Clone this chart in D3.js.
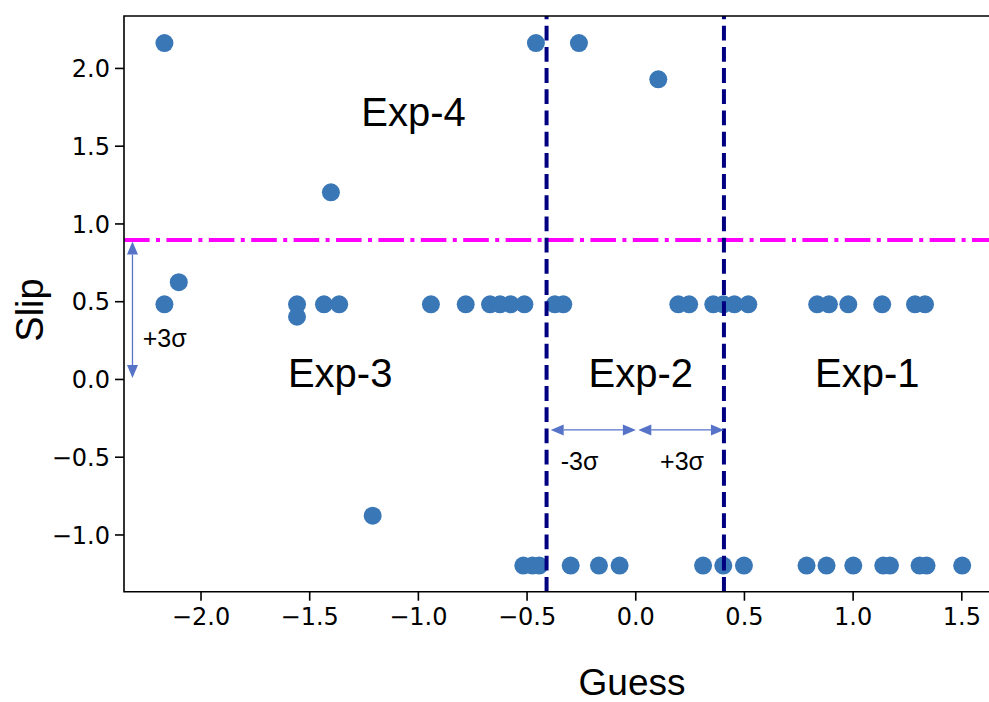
<!DOCTYPE html>
<html><head><meta charset="utf-8">
<script src="https://cdn.jsdelivr.net/npm/d3@7"></script>
<style>html,body{margin:0;padding:0;background:#fff;}svg{display:block;}</style>
</head><body>
<svg id="chart" width="989" height="702"></svg>
<script>
// ---- data ----
const guessValues = [
  -2.166, -0.457, -0.259,
  0.106,
  -1.400,
  -2.100,
  -1.556,
  -1.208,
  -2.166, -1.556, -1.432, -1.362, -0.940, -0.780, -0.668, -0.622, -0.573, -0.510, -0.370, -0.331,
  0.198, 0.248, 0.359, 0.405, 0.456, 0.520, 0.837, 0.891, 0.980, 1.136, 1.287, 1.333,
  -0.515, -0.473, -0.442, -0.297, -0.167, -0.072, 0.312, 0.405, 0.500, 0.788, 0.880, 1.003,
  1.141, 1.172, 1.308, 1.340, 1.504
];
const slipValues = [
  2.16, 2.16, 2.16,
  1.927,
  1.20,
  0.622,
  0.40,
  -0.879,
  0.48, 0.48, 0.48, 0.48, 0.48, 0.48, 0.48, 0.48, 0.48, 0.48, 0.48, 0.48,
  0.48, 0.48, 0.48, 0.48, 0.48, 0.48, 0.48, 0.48, 0.48, 0.48, 0.48, 0.48,
  -1.20, -1.20, -1.20, -1.20, -1.20, -1.20, -1.20, -1.20, -1.20, -1.20, -1.20, -1.20,
  -1.20, -1.20, -1.20, -1.20, -1.20
];
const xTicks = [-2.0, -1.5, -1.0, -0.5, 0.0, 0.5, 1.0, 1.5];
const yTicks = [-1.0, -0.5, 0.0, 0.5, 1.0, 1.5, 2.0];
const slipThreshold = 0.894;          // magenta dash-dot line
const guessBounds = [-0.408, 0.408];  // navy dashed lines
const regionLabels = ["Exp-4", "Exp-3", "Exp-2", "Exp-1"];
const regionLabelAnchors = [[-1.26, 1.627], [-1.598, -0.05], [-0.215, -0.05], [0.827, -0.05]];
const sigmaLabels = ["+3σ", "-3σ", "+3σ"];
const sigmaLabelAnchors = [[-2.266, 0.208], [-0.343, -0.585], [0.114, -0.585]];

// ---- layout ----
const svg = d3.select("#chart");
const L = 124, R = 995, T = 16, B = 591.7;
const x = d3.scaleLinear().domain([-2.352, 1.655]).range([L, R]);
const y = d3.scaleLinear().domain([-1.368, 2.334]).range([B, T]);

svg.append("rect").attr("width", 989).attr("height", 702).attr("fill", "#fff");

const clip = svg.append("defs").append("clipPath").attr("id", "plotclip");
clip.append("rect").attr("x", L).attr("y", T).attr("width", R - L).attr("height", B - T);

const plot = svg.append("g").attr("clip-path", "url(#plotclip)");

// points
plot.selectAll("circle.pt").data(guessValues.map((g, i) => [g, slipValues[i]]))
  .enter().append("circle").attr("class", "pt")
  .attr("cx", d => x(d[0])).attr("cy", d => y(d[1])).attr("r", 9)
  .attr("fill", "#3a77b7");

// magenta dash-dot line
plot.append("line")
  .attr("x1", x.range()[0]).attr("x2", x.range()[1])
  .attr("y1", y(slipThreshold)).attr("y2", y(slipThreshold))
  .attr("stroke", "#ff00ff").attr("stroke-width", 4)
  .attr("stroke-dasharray", "25.6,6.4,4,6.4");

// navy dashed verticals
guessBounds.forEach(g => {
  plot.append("line")
    .attr("x1", x(g)).attr("x2", x(g))
    .attr("y1", B).attr("y2", T)
    .attr("stroke", "#000080").attr("stroke-width", 4)
    .attr("stroke-dasharray", "14.8,6.4");
});

// arrows
const arrowColor = "#5673c8";
function arrow(p0, p1) {
  const x0 = x(p0[0]), y0 = y(p0[1]), x1 = x(p1[0]), y1 = y(p1[1]);
  const dx = x1 - x0, dy = y1 - y0, len = Math.hypot(dx, dy);
  const ux = dx / len, uy = dy / len, nx = -uy, ny = ux;
  const hl = 13, hw = 5.5;
  svg.append("line").attr("x1", x0 + ux * hl).attr("y1", y0 + uy * hl)
    .attr("x2", x1 - ux * hl).attr("y2", y1 - uy * hl)
    .attr("stroke", arrowColor).attr("stroke-width", 1.3);
  const head = (tx, ty, sx, sy) => {
    const bx = tx - sx * hl, by = ty - sy * hl;
    return `M${tx},${ty}L${bx + nx * hw},${by + ny * hw}L${bx - nx * hw},${by - ny * hw}Z`;
  };
  svg.append("path").attr("d", head(x1, y1, ux, uy)).attr("fill", arrowColor);
  svg.append("path").attr("d", head(x0, y0, -ux, -uy)).attr("fill", arrowColor);
}
arrow([-2.313, slipThreshold - 0.01], [-2.313, 0.006]);
arrow([-0.389, -0.328], [0.003, -0.328]);
arrow([0.014, -0.328], [guessBounds[1], -0.328]);

// region labels
regionLabels.forEach((t, i) => {
  svg.append("text").attr("x", x(regionLabelAnchors[i][0])).attr("y", y(regionLabelAnchors[i][1]))
    .attr("font-family", "Liberation Sans, Arial, sans-serif").attr("font-size", 40)
    .attr("fill", "#000").text(t);
});
sigmaLabels.forEach((t, i) => {
  svg.append("text").attr("x", x(sigmaLabelAnchors[i][0])).attr("y", y(sigmaLabelAnchors[i][1]))
    .attr("font-family", "Liberation Sans, Arial, sans-serif").attr("font-size", 25)
    .attr("fill", "#000").text(t);
});

// axes
const fmt = d3.format(".1f");
const xAxis = svg.append("g").attr("transform", `translate(0,${B})`)
  .call(d3.axisBottom(x).tickValues(xTicks).tickFormat(fmt).tickSize(9).tickPadding(7));
const yAxis = svg.append("g").attr("transform", `translate(${L},0)`)
  .call(d3.axisLeft(y).tickValues(yTicks).tickFormat(fmt).tickSize(9).tickPadding(5));
[xAxis, yAxis].forEach(a => {
  a.select(".domain").remove();
  a.selectAll(".tick line").attr("stroke", "#000").attr("stroke-width", 1.6);
  a.selectAll(".tick text").attr("font-family", "DejaVu Sans, sans-serif")
    .attr("font-size", 24).attr("fill", "#000");
});
xAxis.selectAll(".tick text").attr("dy", "0.71em");
yAxis.selectAll(".tick text").attr("dy", "0.36em");

// spines
svg.append("path")
  .attr("d", `M${R},${T}L${L},${T}L${L},${B}L${R},${B}`)
  .attr("fill", "none").attr("stroke", "#000").attr("stroke-width", 1.6);

// axis titles
svg.append("text").attr("x", 632).attr("y", 695)
  .attr("text-anchor", "middle").attr("font-family", "Liberation Sans, Arial, sans-serif")
  .attr("font-size", 37).attr("fill", "#000").text("Guess");
svg.append("text").attr("transform", "translate(43,310) rotate(-90)")
  .attr("text-anchor", "middle").attr("font-family", "Liberation Sans, Arial, sans-serif")
  .attr("font-size", 38).attr("fill", "#000").text("Slip");
</script>
</body></html>
